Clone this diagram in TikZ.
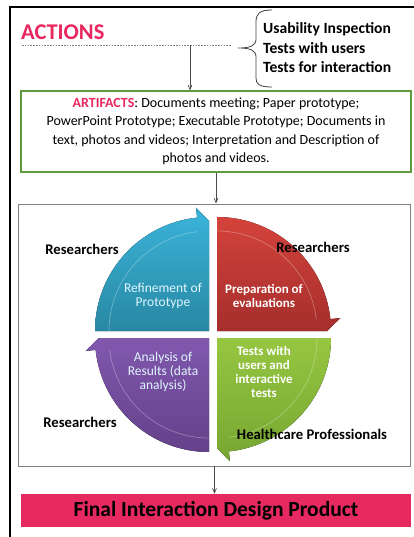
\documentclass[tikz,border=0pt]{standalone}
\usepackage{fontspec}
\setmainfont{Carlito}
\usetikzlibrary{arrows,positioning}

\definecolor{actpink}{HTML}{E8285F}
\definecolor{boxgreen}{HTML}{5E9B3E}
\definecolor{barpink}{HTML}{E6295F}
\definecolor{bluetop}{HTML}{3BB4DA}
\definecolor{bluebot}{HTML}{2888A3}
\definecolor{redtop}{HTML}{D4433B}
\definecolor{redbot}{HTML}{A52E2C}
\definecolor{greentop}{HTML}{96C641}
\definecolor{greenbot}{HTML}{76A631}
\definecolor{purpletop}{HTML}{8158AE}
\definecolor{purplebot}{HTML}{64418A}

\begin{document}
\begin{tikzpicture}[x=1pt,y=-1pt,>=angle 45,
    link/.style={->,draw=black!70,line width=0.7pt},
    artbox/.style={draw=boxgreen,line width=1.2pt,minimum width=390pt,minimum height=81pt,
      align=center,font=\fontsize{14}{18.5}\selectfont,inner sep=0pt},
    cyclebox/.style={draw=black!50,line width=0.9pt,minimum width=392pt,minimum height=262pt},
    finalbox/.style={fill=barpink,minimum width=390pt,minimum height=33pt,
      font=\bfseries\fontsize{21.5}{23}\selectfont},
    who/.style={font=\bfseries\fontsize{14.7}{16}\selectfont,inner sep=0pt},
    stepdark/.style={text=white,align=center,font=\bfseries\fontsize{13}{13.8}\selectfont,inner sep=0pt},
    steplight/.style={text=white!88!cyan,align=center,font=\fontsize{13.5}{14}\selectfont,inner sep=0pt},
    band/.style={draw=white,draw opacity=0.3,line width=0.7pt}]
  \useasboundingbox (0,0) rectangle (414,537);

  % frame on the left and top
  \draw[line width=2.5pt] (10,537) -- (10,7) -- (414,7);

  % header
  \node[anchor=west,inner sep=0pt,text=actpink,font=\bfseries\fontsize{22.5}{24}\selectfont]
    (actions) at (21,32) {ACTIONS};
  \draw[black!50,line width=0.8pt,dash pattern=on 1.6pt off 1.2pt]
    (22,45) -- coordinate[pos=0.8] (drop) (232,45);
  \draw[black!75,line width=0.8pt]
    (272,10) .. controls (259,10) and (256,14) .. (256,22) -- (256,39)
      .. controls (256,46) and (250,48) .. (238,48)
      .. controls (250,48) and (256,50) .. (256,57) -- (256,78)
      .. controls (256,84) and (259,87) .. (272,87);
  \node[anchor=west,align=left,inner sep=0pt,font=\bfseries\fontsize{15.6}{19.5}\selectfont]
    (tests) at (263,48) {Usability Inspection\\Tests with users\\Tests for interaction};

  % artifacts
  \node[artbox] (artifacts) at (216,131.5)
    {\textcolor{actpink}{\textbf{ARTIFACTS}}: Documents meeting; Paper prototype;\\
     PowerPoint Prototype; Executable Prototype; Documents in\\
     text, photos and videos; Interpretation and Description of\\
     photos and videos.};

  % cycle
  \node[cyclebox] (cycle) at (214.5,335) {};

  \begin{scope}[shift={(209,331)}]
    \fill[top color=bluetop,bottom color=bluebot]
      (0,0) -- (180:114) arc[start angle=180,end angle=264,radius=114]
      -- (264:124) -- (270:110) -- cycle;
    \draw[band] (180:100) arc[start angle=180,end angle=263,radius=100];
  \end{scope}
  \begin{scope}[shift={(217,331)}]
    \fill[top color=redtop,bottom color=redbot]
      (0,0) -- (270:114) arc[start angle=270,end angle=354,radius=114]
      -- (354:124) -- (360:110) -- cycle;
    \draw[band] (270:100) arc[start angle=270,end angle=353,radius=100];
  \end{scope}
  \begin{scope}[shift={(217,338)}]
    \fill[top color=greentop,bottom color=greenbot]
      (0,0) -- (0:114) arc[start angle=0,end angle=84,radius=114]
      -- (84:124) -- (90:110) -- cycle;
    \draw[band] (0:100) arc[start angle=0,end angle=83,radius=100];
  \end{scope}
  \begin{scope}[shift={(209,338)}]
    \fill[top color=purpletop,bottom color=purplebot]
      (0,0) -- (90:114) arc[start angle=90,end angle=174,radius=114]
      -- (174:124) -- (180:110) -- cycle;
    \draw[band] (90:100) arc[start angle=90,end angle=173,radius=100];
  \end{scope}

  \node[steplight] (refine) at (163,296) {Refinement of\\Prototype};
  \node[stepdark] (prepare) at (264,296) {Preparation of\\evaluations};
  \node[stepdark] (testing) at (264,372) {Tests with\\users and\\interactive\\tests};
  \node[steplight] (analysis) at (163,372) {Analysis of\\Results (data\\analysis)};

  \node[who] (whoA) at (82,249) {Researchers};
  \node[who] (whoB) at (313,247) {Researchers};
  \node[who] (whoC) at (80,422) {Researchers};
  \node[who] (whoD) at (312,434) {Healthcare Professionals};

  % result
  \node[finalbox] (final) at (216,510.5) {Final Interaction Design Product};

  \draw[link] (drop) -- (drop |- artifacts.north);
  \draw[link] (artifacts.south) -- (artifacts.south |- cycle.north);
  \draw[link] (cycle.south) -- (cycle.south |- final.north);
\end{tikzpicture}
\end{document}
